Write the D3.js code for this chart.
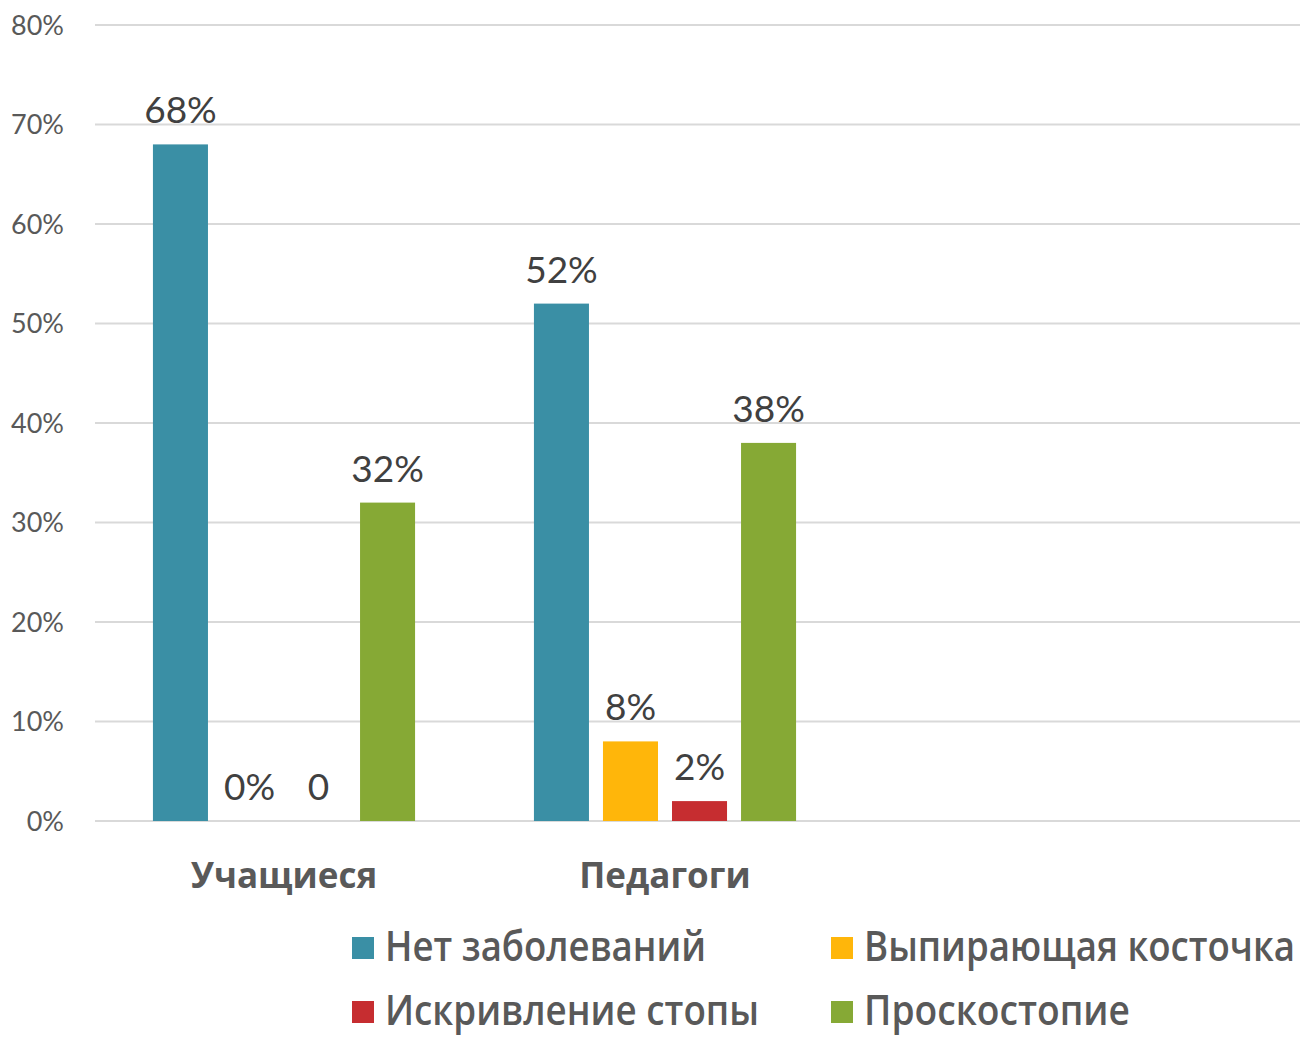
<!DOCTYPE html>
<html>
<head>
<meta charset="utf-8">
<script src="https://cdn.jsdelivr.net/npm/d3@7"></script>
<style>
  html, body { margin: 0; padding: 0; background: #fff; }
  svg { display: block; }
</style>
</head>
<body>
<svg id="chart" width="1300" height="1039"></svg>
<script>
// Categories and series
const categories = ["Учащиеся", "Педагоги"];
const seriesNames = ["Нет заболеваний", "Выпирающая косточка", "Искривление стопы", "Проскостопие"];
const seriesColors = ["#3A8FA5", "#FFB60A", "#C62D30", "#86A935"];
// values per series, in category order (percent)
const valNone = [68, 52];
const valBunion = [0, 8];
const valCurve = [0, 2];
const valFlat = [32, 38];
// label text per series, in category order
const lblNone = ["68%", "52%"];
const lblBunion = ["0%", "8%"];
const lblCurve = ["0", "2%"];
const lblFlat = ["32%", "38%"];
const yTicks = [0, 10, 20, 30, 40, 50, 60, 70, 80];

const seriesValues = [valNone, valBunion, valCurve, valFlat];
const seriesLabels = [lblNone, lblBunion, lblCurve, lblFlat];

const svg = d3.select("#chart");
const plotLeft = 95, gridRight = 1300;
const plotTop = 25, plotBottom = 821;

const y = d3.scaleLinear().domain([0, 80]).range([plotBottom, plotTop]);
const x0 = d3.scaleBand().domain(categories).range([plotLeft - 1.5, plotLeft - 1.5 + 2 * 381])
  .paddingInner(0.312).paddingOuter(0.156);
const x1 = d3.scaleBand().domain(d3.range(seriesNames.length))
  .range([0, x0.bandwidth()]).paddingInner(14 / 69).paddingOuter(0);

// gridlines
svg.append("g").selectAll("line").data(yTicks).join("line")
  .attr("x1", plotLeft).attr("x2", gridRight)
  .attr("y1", d => y(d)).attr("y2", d => y(d))
  .attr("stroke", "#D9D9D9").attr("stroke-width", 2);

// y tick labels
const yAxis = d3.axisLeft(y).tickValues(yTicks).tickFormat(d => d + "%").tickSize(0).tickPadding(0);
const yg = svg.append("g").attr("transform", `translate(64,0)`).call(yAxis);
yg.select(".domain").remove();
yg.selectAll("text")
  .attr("font-family", "Lato, 'Open Sans', sans-serif")
  .attr("font-size", 27).attr("fill", "#595959").attr("dy", "0.35em");

// bars
const groups = svg.append("g").selectAll("g").data(categories).join("g")
  .attr("transform", d => `translate(${x0(d)},0)`);

groups.each(function(cat, ci) {
  const g = d3.select(this);
  seriesNames.forEach((s, si) => {
    const v = seriesValues[si][ci];
    g.append("rect")
      .attr("x", x1(si)).attr("width", x1.bandwidth())
      .attr("y", y(v)).attr("height", y(0) - y(v))
      .attr("fill", seriesColors[si]);
    g.append("text")
      .attr("x", x1(si) + x1.bandwidth() / 2)
      .attr("y", y(v) - 21)
      .attr("text-anchor", "middle")
      .attr("font-family", "Lato, 'Open Sans', sans-serif")
      .attr("font-size", 37).attr("fill", "#404040")
      .text(seriesLabels[si][ci]);
  });
});

// category labels
svg.append("g").selectAll("text").data(categories).join("text")
  .attr("x", d => x0(d) + x0.bandwidth() / 2)
  .attr("y", 888)
  .attr("text-anchor", "middle")
  .attr("font-family", "'Open Sans', sans-serif")
  .attr("font-weight", 700)
  .attr("font-size", 35).attr("fill", "#595959")
  .text(d => d);

// legend: two columns, two rows, condensed lettering
const legendPos = [
  { x: 352, y: 937, w: 321 },
  { x: 831, y: 937, w: 431 },
  { x: 352, y: 1001, w: 374 },
  { x: 831, y: 1001, w: 266 }
];
const legend = svg.append("g");
seriesNames.forEach((s, i) => {
  const p = legendPos[i];
  legend.append("rect").attr("x", p.x).attr("y", p.y).attr("width", 22).attr("height", 22)
    .attr("fill", seriesColors[i]);
  legend.append("text")
    .attr("transform", `translate(${p.x + 33},${p.y + 24}) scale(1,1.22)`)
    .attr("font-family", "'Open Sans', sans-serif")
    .attr("font-weight", 600)
    .attr("font-size", 34).attr("fill", "#595959")
    .attr("textLength", p.w).attr("lengthAdjust", "spacingAndGlyphs")
    .text(s);
});
</script>
</body>
</html>
